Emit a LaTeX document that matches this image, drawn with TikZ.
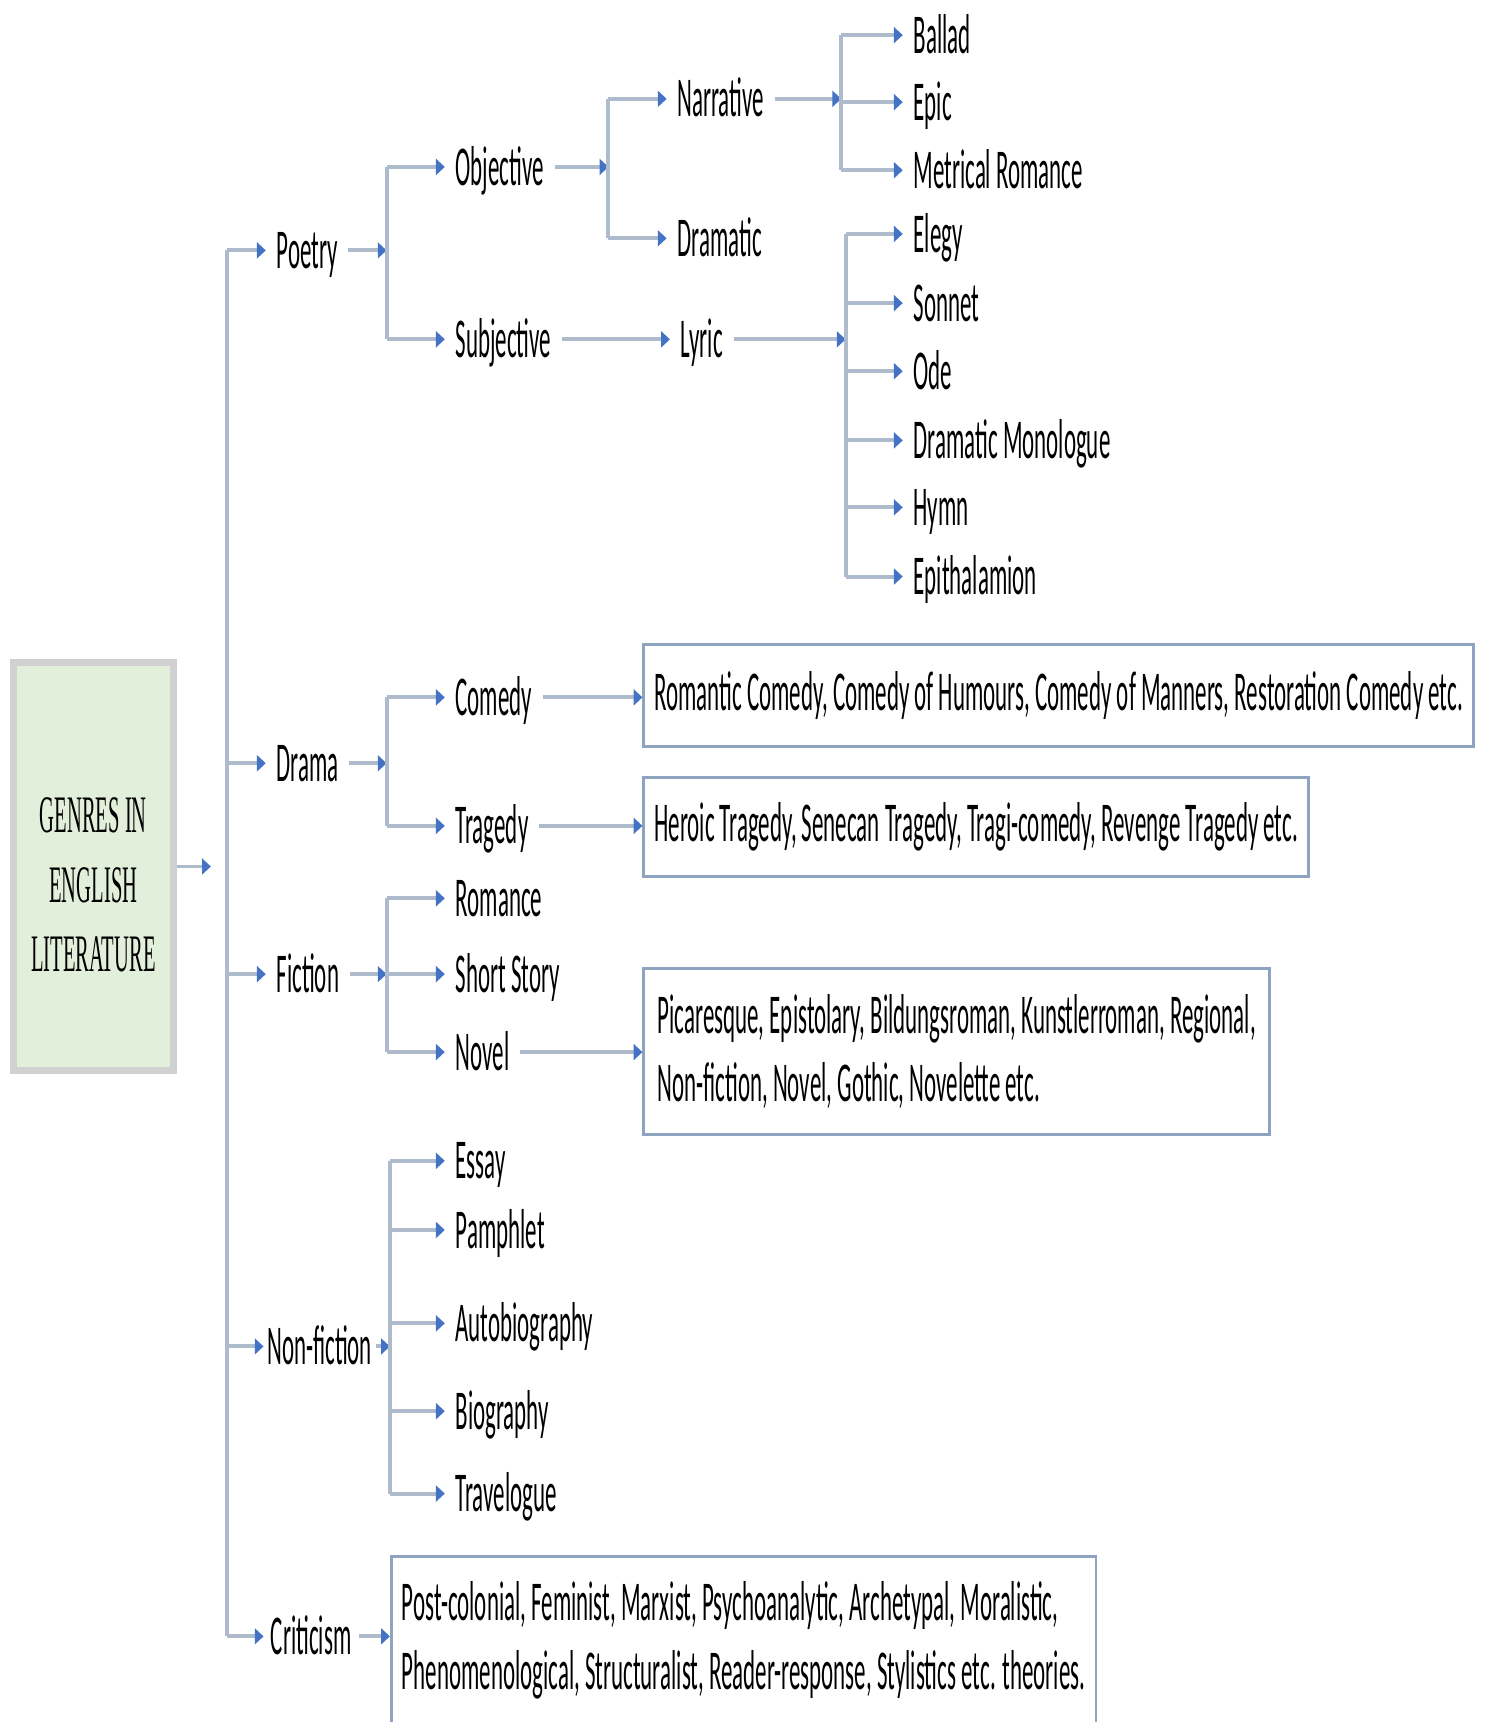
\documentclass[tikz,border=0pt]{standalone}
\usepackage{fontspec}
\setmainfont{Carlito}[FakeStretch=0.408]
\newfontfamily\rootfont{Liberation Serif}[FakeStretch=0.39]
\usetikzlibrary{arrows.meta,positioning}
\definecolor{genline}{HTML}{AEBBCD}
\definecolor{genblue}{HTML}{4472C4}
\definecolor{genedge}{HTML}{8EA3C0}
\definecolor{gengreen}{HTML}{E2EFDA}

\begin{document}
\begin{tikzpicture}[
    x=0.021968cm, y=-0.021968cm,
    every node/.style={font=\fontsize{32}{39}\selectfont},
    leaf/.style={anchor=west, inner xsep=6pt, inner ysep=0pt,
                 text height=20.6pt, text depth=0pt},
    listbox/.style={draw=genedge, line width=1.6pt, fill=white,
                    anchor=west, align=left, inner xsep=6pt},
    rootbox/.style={draw=black!18, line width=4pt, fill=gengreen},
    rootlabel/.style={align=center, yshift=-0.37cm,
                      font=\rootfont\fontsize{30}{39.5}\selectfont},
    link/.style={genline, line width=2.2pt},
    arrow/.style={link, -{Triangle[length=5pt,width=9pt,color=genblue]}},
]
\useasboundingbox (0,0) rectangle (1352,1568);

% Root
\node[rootbox, minimum width=3.21cm, minimum height=8.17cm,
      label={[rootlabel]center:GENRES IN\\ENGLISH\\LITERATURE}] (root) at (85,789) {};

% Main genres
\node[leaf] (poetry) at (242,228) {Poetry};
\node[leaf] (drama) at (242,695) {Drama};
\node[leaf] (fiction) at (242,887) {Fiction};
\node[leaf, inner xsep=2pt] (nonfic) at (240,1226) {Non-fiction};
\node[leaf, inner xsep=4pt] (criticism) at (240,1490) {Criticism};

% Poetry
\node[leaf] (objective) at (405,152) {Objective};
\node[leaf] (subjective) at (405,309) {Subjective};
\node[leaf] (narrative) at (607,90) {Narrative};
\node[leaf] (dramatic) at (607,217) {Dramatic};
\node[leaf] (lyric) at (610,309) {Lyric};
\node[leaf] (ballad) at (822,32) {Ballad};
\node[leaf] (epic) at (822,93) {Epic};
\node[leaf] (metrical) at (822,155) {Metrical Romance};
\node[leaf] (elegy) at (822,213) {Elegy};
\node[leaf] (sonnet) at (822,276) {Sonnet};
\node[leaf] (ode) at (822,338) {Ode};
\node[leaf] (monologue) at (822,401) {Dramatic Monologue};
\node[leaf] (hymn) at (822,462) {Hymn};
\node[leaf] (epitha) at (822,525) {Epithalamion};

% Drama
\node[leaf] (comedy) at (405,635) {Comedy};
\node[leaf] (tragedy) at (405,752) {Tragedy};
\node[listbox, minimum width=16.54cm, minimum height=2.04cm] (comedybox) at (585,633.5)
     {Romantic Comedy, Comedy of Humours, Comedy of Manners, Restoration Comedy etc.};
\node[listbox, minimum width=13.2cm, minimum height=1.98cm] (tragedybox) at (585,753)
     {Heroic Tragedy, Senecan Tragedy, Tragi-comedy, Revenge Tragedy etc.};

% Fiction
\node[leaf] (romance) at (405,818) {Romance};
\node[leaf] (shortstory) at (405,887) {Short Story};
\node[leaf] (novel) at (405,958) {Novel};
\node[listbox, minimum width=12.52cm, minimum height=3.32cm] (novelbox) at (585,957.5)
     {Picaresque, Epistolary, Bildungsroman, Kunstlerroman, Regional,\\
      Non-fiction, Novel, Gothic, Novelette etc.};

% Non-fiction
\node[leaf] (essay) at (405,1057) {Essay};
\node[leaf] (pamphlet) at (405,1120) {Pamphlet};
\node[leaf] (autobio) at (405,1205) {Autobiography};
\node[leaf] (bio) at (405,1285) {Biography};
\node[leaf] (travel) at (405,1360) {Travelogue};

% Criticism
\node[listbox, minimum width=14.1cm, minimum height=3.36cm] (critbox) at (355,1493.5)
     {Post-colonial, Feminist, Marxist, Psychoanalytic, Archetypal, Moralistic,\\
      Phenomenological, Structuralist, Reader-response, Stylistics etc. theories.};

% Bus lines
\coordinate (rootjoin) at (192,789);
\coordinate (mainbus) at (207,0);
\coordinate (poetrybus) at (352,0);
\coordinate (objbus) at (554,0);
\coordinate (narbus) at (766,0);
\coordinate (lyricbus) at (770,0);
\coordinate (dramabus) at (352,0);
\coordinate (fictionbus) at (352,0);
\coordinate (nonficbus) at (355,0);

% Arrows
\draw[arrow] (root.east) -- (rootjoin);
\draw[link] (mainbus |- poetry.west) -- (mainbus |- criticism.west);
\foreach \g in {poetry,drama,fiction,nonfic,criticism}
  \draw[arrow] (mainbus |- \g.west) -- (\g.west);

\draw[arrow] (poetry.east) -- (poetry.east -| poetrybus);
\draw[link] (poetrybus |- objective.west) -- (poetrybus |- subjective.west);
\foreach \g in {objective,subjective}
  \draw[arrow] (poetrybus |- \g.west) -- (\g.west);

\draw[arrow] (objective.east) -- (objective.east -| objbus);
\draw[link] (objbus |- narrative.west) -- (objbus |- dramatic.west);
\foreach \g in {narrative,dramatic}
  \draw[arrow] (objbus |- \g.west) -- (\g.west);

\draw[arrow] (narrative.east) -- (narrative.east -| narbus);
\draw[link] (narbus |- ballad.west) -- (narbus |- metrical.west);
\foreach \g in {ballad,epic,metrical}
  \draw[arrow] (narbus |- \g.west) -- (\g.west);

\draw[arrow] (subjective.east) -- (lyric.west);
\draw[arrow] (lyric.east) -- (lyric.east -| lyricbus);
\draw[link] (lyricbus |- elegy.west) -- (lyricbus |- epitha.west);
\foreach \g in {elegy,sonnet,ode,monologue,hymn,epitha}
  \draw[arrow] (lyricbus |- \g.west) -- (\g.west);

\draw[arrow] (drama.east) -- (drama.east -| dramabus);
\draw[link] (dramabus |- comedy.west) -- (dramabus |- tragedy.west);
\foreach \g in {comedy,tragedy}
  \draw[arrow] (dramabus |- \g.west) -- (\g.west);
\draw[arrow] (comedy.east) -- (comedy.east -| comedybox.west);
\draw[arrow] (tragedy.east) -- (tragedy.east -| tragedybox.west);

\draw[arrow] (fiction.east) -- (fiction.east -| fictionbus);
\draw[link] (fictionbus |- romance.west) -- (fictionbus |- novel.west);
\foreach \g in {romance,shortstory,novel}
  \draw[arrow] (fictionbus |- \g.west) -- (\g.west);
\draw[arrow] (novel.east) -- (novel.east -| novelbox.west);

\draw[arrow] (nonfic.east) -- (nonfic.east -| nonficbus);
\draw[link] (nonficbus |- essay.west) -- (nonficbus |- travel.west);
\foreach \g in {essay,pamphlet,autobio,bio,travel}
  \draw[arrow] (nonficbus |- \g.west) -- (\g.west);

\draw[arrow] (criticism.east) -- (criticism.east -| critbox.west);
\end{tikzpicture}
\end{document}
